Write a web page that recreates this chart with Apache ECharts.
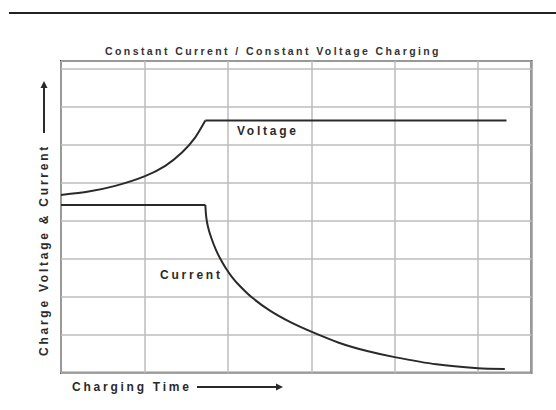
<!DOCTYPE html>
<html>
<head>
<meta charset="utf-8">
<script src="https://cdn.jsdelivr.net/npm/echarts@6/dist/echarts.min.js"></script>
<style>
    html, body { margin: 0; padding: 0; background: #fff; }
    #main { width: 556px; height: 410px; }
    /* wide tracking like the scanned figure */
    #main text { letter-spacing: 0.23em; }
</style>
</head>
<body>
<div id="main"></div>
<script>
    // 充电曲线数据 (x = 时间格, y = 纵向格)
    var voltageRiseX = [0, 0.33, 0.65, 1.0, 1.25, 1.45, 1.61, 1.73];
    var voltageRiseY = [4.68, 4.77, 4.92, 5.17, 5.45, 5.80, 6.20, 6.64];
    var voltageHoldX = [1.73, 5.34];
    var voltageHoldY = [6.64, 6.64];

    var currentHoldX = [0, 1.73];
    var currentHoldY = [4.42, 4.42];
    var currentDecayX = [1.73, 1.74, 1.76, 1.80, 1.86, 1.91, 1.97, 2.05, 2.15, 2.29, 2.50, 2.75, 3.00, 3.33, 3.67, 4.00, 4.50, 5.00, 5.32];
    var currentDecayY = [4.42, 4.12, 3.86, 3.56, 3.22, 3.00, 2.77, 2.52, 2.27, 1.98, 1.64, 1.33, 1.08, 0.79, 0.57, 0.41, 0.22, 0.12, 0.10];

    var titleText = 'Constant Current / Constant Voltage Charging';
    var xName = 'Charging Time';
    var yName = 'Charge Voltage & Current';
    var voltageName = 'Voltage';
    var currentName = 'Current';

    var ink = '#2a2a2a';
    var font = 'Liberation Sans';

    function pairs(xs, ys) {
        return xs.map(function (x, i) { return [x, ys[i]]; });
    }

    function lineSeries(name, xs, ys, smooth) {
        return {
            name: name,
            type: 'line',
            data: pairs(xs, ys),
            smooth: smooth ? 0.25 : false,
            showSymbol: false,
            lineStyle: { color: ink, width: 2 },
            z: 5
        };
    }

    var chart = echarts.init(document.getElementById('main'), null, { renderer: 'svg' });

    var option = {
        animation: false,
        backgroundColor: '#fff',
        title: {
            text: titleText,
            left: 268,
            top: 40,
            textAlign: 'center',
            textStyle: { fontFamily: font, fontSize: 10.5, fontWeight: 'bold', color: '#333' }
        },
        grid: {
            left: 61,
            top: 61,
            right: 24.5,
            bottom: 37.3,
            show: true,
            borderColor: '#333',
            borderWidth: 2
        },
        xAxis: {
            type: 'value',
            min: 0,
            max: 5.64,
            interval: 1,
            axisLine: { show: false },
            axisTick: { show: false },
            axisLabel: { show: false },
            splitLine: { show: true, lineStyle: { color: '#bdbdbd', width: 1.5 } }
        },
        yAxis: {
            type: 'value',
            min: 0,
            max: 8.21,
            interval: 1,
            axisLine: { show: false },
            axisTick: { show: false },
            axisLabel: { show: false },
            splitLine: { show: true, lineStyle: { color: '#bdbdbd', width: 1.5 } }
        },
        series: [
            lineSeries(voltageName, voltageRiseX, voltageRiseY, true),
            lineSeries(voltageName, voltageHoldX, voltageHoldY, false),
            lineSeries(currentName, currentHoldX, currentHoldY, false),
            lineSeries(currentName, currentDecayX, currentDecayY, true)
        ],
        graphic: [
            // 顶部横线
            { type: 'line', shape: { x1: 9, y1: 13, x2: 556, y2: 13 }, style: { stroke: '#222', lineWidth: 2 } },
            // 曲线标注
            { type: 'text', x: 237, y: 131, style: { text: voltageName, fill: ink, font: 'bold 12px ' + font, textVerticalAlign: 'middle' } },
            { type: 'text', x: 160, y: 275, style: { text: currentName, fill: ink, font: 'bold 12px ' + font, textVerticalAlign: 'middle' } },
            // x 轴名称 + 箭头
            { type: 'text', x: 72, y: 387, style: { text: xName, fill: ink, font: 'bold 12px ' + font, textVerticalAlign: 'middle' } },
            { type: 'line', shape: { x1: 197, y1: 387, x2: 280, y2: 387 }, style: { stroke: ink, lineWidth: 2 } },
            { type: 'polygon', shape: { points: [[283, 387], [276, 383.5], [276, 390.5]] }, style: { fill: ink } },
            // y 轴名称 + 箭头
            { type: 'text', x: 44, y: 250, rotation: Math.PI / 2, style: { text: yName, fill: ink, font: 'bold 12px ' + font, textAlign: 'center', textVerticalAlign: 'middle' } },
            { type: 'line', shape: { x1: 44, y1: 133, x2: 44, y2: 85 }, style: { stroke: ink, lineWidth: 2 } },
            { type: 'polygon', shape: { points: [[44, 81], [40.5, 88], [47.5, 88]] }, style: { fill: ink } }
        ]
    };

    chart.setOption(option);

    window.addEventListener('resize', function () {
        chart.resize();
    });
</script>
</body>
</html>
